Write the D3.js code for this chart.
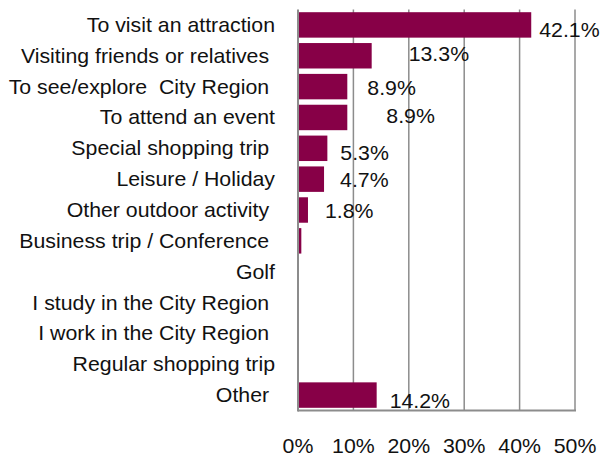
<!DOCTYPE html>
<html>
<head>
<meta charset="utf-8">
<script src="https://cdn.jsdelivr.net/npm/d3@7"></script>
<style>
  body { margin: 0; background: #fff; }
  text { font-family: "Liberation Sans", Arial, sans-serif; font-size: 20px; fill: #111; white-space: pre; }
</style>
</head>
<body>
<svg id="base" width="600" height="456"></svg>
<script>
let categories = ["To visit an attraction", "Visiting friends or relatives ", "To see/explore  City Region ",
    "To attend an event", "Special shopping trip ", "Leisure / Holiday", "Other outdoor activity ",
    "Business trip / Conference ", "Golf", "I study in the City Region ", "I work in the City Region ",
    "Regular shopping trip", "Other "]
let values = [42.1, 13.3, 8.9, 8.9, 5.3, 4.7, 1.8, 0.6, 0, 0, 0, 0, 14.2]
let valueLabels = ["42.1%", "13.3%", "8.9%", "8.9%", "5.3%", "4.7%", "1.8%", "", "", "", "", "", "14.2%"]
let ticks = [0, 10, 20, 30, 40, 50]

// label nudges as placed in the original (px from bar end / bar centre)
let labelDx = [8, 37, 20, 39, 13, 16, 17, 0, 0, 0, 0, 0, 13]
let labelDy = [12, 5, 8, 6, 12, 8, 8, 0, 0, 0, 0, 0, 13]
let stretch = 1.065 // text in the original is a bit wider than Liberation Sans

const base = d3.select('#base')
let plotLeft = 298, plotRight = 575, plotTop = 9.5, plotBottom = 410.5

let x = d3.scaleLinear().domain([0, 50]).range([plotLeft, plotRight])
let y = d3.scaleBand().domain(categories).range([plotTop, plotBottom]).paddingInner(0.175).paddingOuter(0.0875)

function place(px, py) {
    return 'translate(' + px + ',' + py + ') scale(' + stretch + ',1)'
}

// gridlines
base.selectAll('line.grid').data(ticks.slice(1)).enter().append('line')
    .attr('x1', d => x(d)).attr('x2', d => x(d))
    .attr('y1', plotTop).attr('y2', plotBottom)
    .style('stroke', '#8c8c8c').style('stroke-width', 1.5)

// axis lines
base.append('line').attr('x1', plotLeft).attr('x2', plotLeft).attr('y1', plotTop).attr('y2', plotBottom + 1)
    .style('stroke', '#8c8c8c').style('stroke-width', 2)
base.append('line').attr('x1', plotLeft).attr('x2', plotRight + 1).attr('y1', plotBottom).attr('y2', plotBottom)
    .style('stroke', '#8c8c8c').style('stroke-width', 2)

// bars
base.selectAll('rect.bar').data(values).enter().append('rect')
    .attr('x', plotLeft + 1)
    .attr('y', (d, i) => y(categories[i]))
    .attr('width', d => Math.max(0, x(d) - plotLeft - 1))
    .attr('height', y.bandwidth())
    .style('fill', '#870047')

// category labels
base.selectAll('text.cat').data(categories).enter().append('text')
    .attr('transform', d => place(275, y(d) + y.bandwidth() / 2 + 7))
    .attr('text-anchor', 'end')
    .text(d => d)

// value labels
base.selectAll('text.val').data(values).enter().append('text')
    .attr('transform', (d, i) => place(x(d) + labelDx[i], y(categories[i]) + y.bandwidth() / 2 + labelDy[i]))
    .text((d, i) => valueLabels[i])

// tick labels
base.selectAll('text.tick').data(ticks).enter().append('text')
    .attr('transform', d => place(x(d), 453))
    .attr('text-anchor', 'middle')
    .text(d => d + '%')
</script>
</body>
</html>
